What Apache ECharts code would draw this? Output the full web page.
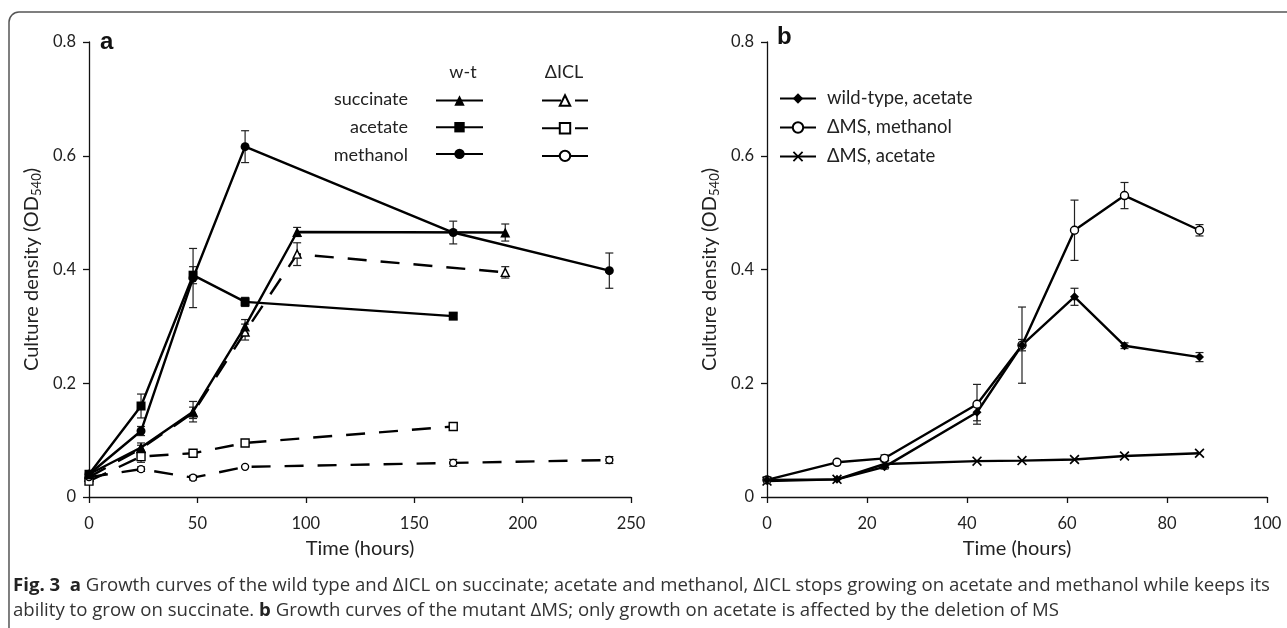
<!DOCTYPE html>
<html>
<head>
<meta charset="utf-8">
<script src="https://cdn.jsdelivr.net/npm/echarts@6/dist/echarts.min.js"></script>
<style>
html,body{margin:0;padding:0;background:#fff;}
#c{width:1287px;height:628px;}
</style>
</head>
<body>
<div id="c"></div>
<script>
// ---------- Panel a data ----------
const aSuccTime = [0, 24, 48, 72, 96, 192];
const aSuccWT   = [0.040, 0.087, 0.150, 0.300, 0.466, 0.465];
const aSuccWTErr = [0.004, 0.008, 0.018, 0.012, 0.008, 0.015];
const aSuccICL  = [0.035, 0.085, 0.148, 0.290, 0.427, 0.395];
const aSuccICLErr = [0.004, 0.006, 0.010, 0.014, 0.020, 0.010];

const aAcetTime = [0, 24, 48, 72, 168];
const aAcetWT   = [0.040, 0.160, 0.390, 0.343, 0.318];
const aAcetWTErr = [0.004, 0.021, 0.015, 0.008, 0.005];
const aAcetICL  = [0.028, 0.071, 0.077, 0.095, 0.124];
const aAcetICLErr = [0.004, 0.010, 0.005, 0.005, 0.006];

const aMethTime = [0, 24, 48, 72, 168, 240];
const aMethWT   = [0.040, 0.116, 0.385, 0.616, 0.465, 0.398];
const aMethWTErr = [0.004, 0.008, 0.052, 0.028, 0.020, 0.031];
const aMethICL  = [0.035, 0.049, 0.034, 0.053, 0.060, 0.065];
const aMethICLErr = [0.004, 0.004, 0.004, 0.003, 0.006, 0.006];

// ---------- Panel b data ----------
const bTime = [0, 14, 23.5, 42, 51, 61.5, 71.5, 86.5];
const bWTAcet = [0.030, 0.031, 0.053, 0.149, 0.267, 0.352, 0.266, 0.246];
const bWTAcetErr = [0.003, 0.003, 0.004, 0.015, 0.010, 0.015, 0.005, 0.008];
const bMSMeth = [0.030, 0.061, 0.068, 0.163, 0.267, 0.469, 0.530, 0.469];
const bMSMethErr = [0.003, 0.004, 0.006, 0.035, 0.067, 0.053, 0.023, 0.010];
const bMSAcet = [0.028, 0.031, 0.058, 0.063, 0.064, 0.066, 0.072, 0.077];

// ---------- Tick / text ----------
const aXTicks = {min: 0, max: 250, interval: 50};
const bXTicks = {min: 0, max: 100, interval: 20};
const yTicks = {min: 0, max: 0.8, interval: 0.2};

const FONT = 'Lato, "Open Sans", sans-serif';
const CAP_FONT = '"Open Sans", sans-serif';

function pts(t, v) { return t.map((x, i) => [x, v[i]]); }
function errs(t, v, e) { return t.map((x, i) => [x, v[i] - e[i], v[i] + e[i]]); }

const chart = echarts.init(document.getElementById('c'), null, {renderer: 'canvas'});

const openMarker = {color: '#fff', borderColor: '#000', borderWidth: 1.4};
const filledMarker = {color: '#000', borderColor: '#000', borderWidth: 0};
const solid = {color: '#000', width: 2.4, type: 'solid'};
const dashed = {color: '#000', width: 2.4, type: [19, 14]};
const crossPath = 'path://M0,1.2 L1.2,0 L5,3.8 L8.8,0 L10,1.2 L6.2,5 L10,8.8 L8.8,10 L5,6.2 L1.2,10 L0,8.8 L3.8,5 Z';

function errSeries(xi, data) {
  return {
    type: 'custom', xAxisIndex: xi, yAxisIndex: xi, z: 1, silent: true,
    data: data.filter(d => d[2] - d[1] > 0.0061),
    renderItem: function (params, api) {
      const x = api.value(0), lo = api.value(1), hi = api.value(2);
      const p1 = api.coord([x, lo]), p2 = api.coord([x, hi]);
      const w = 4;
      const st = {stroke: '#222', lineWidth: 1.2};
      return {type: 'group', children: [
        {type: 'line', shape: {x1: p1[0], y1: p1[1], x2: p2[0], y2: p2[1]}, style: st},
        {type: 'line', shape: {x1: p1[0] - w, y1: p1[1], x2: p1[0] + w, y2: p1[1]}, style: st},
        {type: 'line', shape: {x1: p2[0] - w, y1: p2[1], x2: p2[0] + w, y2: p2[1]}, style: st}
      ]};
    }
  };
}

function lineSeries(name, xi, data, symbol, size, item, line) {
  return {
    name: name, type: 'line', xAxisIndex: xi, yAxisIndex: xi, data: data,
    symbol: symbol, symbolSize: size, showAllSymbol: true, z: 3,
    itemStyle: item, lineStyle: line, color: '#000',
    emphasis: {disabled: true}, animation: false
  };
}

const axisCommon = {
  axisLine: {show: true, onZero: false, lineStyle: {color: '#111', width: 1.3}},
  axisTick: {show: true, inside: false, length: 6, lineStyle: {color: '#111', width: 1.3}},
  splitLine: {show: false},
  axisLabel: {color: '#222', fontSize: 16.5, fontFamily: FONT}
};

const yName = 'Culture density (OD{sub|540})';
const yNameStyle = {
  color: '#222', fontSize: 20, fontFamily: FONT,
  rich: {sub: {fontSize: 13, fontFamily: FONT, color: '#222', verticalAlign: 'bottom', padding: [9, 0, 0, 0]}}
};

const xNameStyle = {color: '#222', fontSize: 20, fontFamily: FONT};

const option = {
  animation: false,
  backgroundColor: '#fff',
  grid: [
    {left: 89, right: 656, top: 42, bottom: 131, containLabel: false},
    {left: 767, right: 20, top: 42, bottom: 131, containLabel: false}
  ],
  xAxis: [
    Object.assign({}, axisCommon, {gridIndex: 0, type: 'value', min: aXTicks.min, max: aXTicks.max, interval: aXTicks.interval,
      name: 'Time (hours)', nameLocation: 'middle', nameGap: 42, nameTextStyle: xNameStyle,
      axisLabel: Object.assign({}, axisCommon.axisLabel, {margin: 18})}),
    Object.assign({}, axisCommon, {gridIndex: 1, type: 'value', min: bXTicks.min, max: bXTicks.max, interval: bXTicks.interval,
      name: 'Time (hours)', nameLocation: 'middle', nameGap: 42, nameTextStyle: xNameStyle,
      axisLabel: Object.assign({}, axisCommon.axisLabel, {margin: 18})})
  ],
  yAxis: [
    Object.assign({}, axisCommon, {gridIndex: 0, type: 'value', min: yTicks.min, max: yTicks.max, interval: yTicks.interval,
      name: yName, nameLocation: 'middle', nameGap: 46, nameRotate: 90, nameTextStyle: yNameStyle,
      axisLabel: Object.assign({}, axisCommon.axisLabel, {margin: 13})}),
    Object.assign({}, axisCommon, {gridIndex: 1, type: 'value', min: yTicks.min, max: yTicks.max, interval: yTicks.interval,
      name: yName, nameLocation: 'middle', nameGap: 46, nameRotate: 90, nameTextStyle: yNameStyle,
      axisLabel: Object.assign({}, axisCommon.axisLabel, {margin: 13})})
  ],
  legend: [
    {
      orient: 'vertical', left: 430, top: 89, itemWidth: 47, itemHeight: 13, itemGap: 15,
      selectedMode: false, formatter: function () { return ''; },
      textStyle: {fontSize: 1, padding: 0},
      data: ['succinate (w-t)', 'acetate (w-t)', 'methanol (w-t)']
    },
    {
      orient: 'vertical', left: 536, top: 89, itemWidth: 46, itemHeight: 13, itemGap: 15,
      selectedMode: false, formatter: function () { return ''; },
      textStyle: {fontSize: 1, padding: 0},
      data: ['succinate (ΔICL)', 'acetate (ΔICL)', {name: 'methanol (ΔICL)', lineStyle: {type: 'solid'}}]
    },
    {
      orient: 'vertical', left: 774, top: 84, itemWidth: 36, itemHeight: 13, itemGap: 10,
      selectedMode: false,
      textStyle: {fontSize: 18.5, fontFamily: FONT, color: '#222', padding: [0, 0, 0, 6]},
      data: ['wild-type, acetate', 'ΔMS, methanol', 'ΔMS, acetate']
    }
  ],
  series: [
    errSeries(0, errs(aSuccTime, aSuccWT, aSuccWTErr)),
    errSeries(0, errs(aSuccTime, aSuccICL, aSuccICLErr)),
    errSeries(0, errs(aAcetTime, aAcetWT, aAcetWTErr)),
    errSeries(0, errs(aAcetTime, aAcetICL, aAcetICLErr)),
    errSeries(0, errs(aMethTime, aMethWT, aMethWTErr)),
    errSeries(0, errs(aMethTime, aMethICL, aMethICLErr)),
    errSeries(1, errs(bTime, bWTAcet, bWTAcetErr)),
    errSeries(1, errs(bTime, bMSMeth, bMSMethErr)),

    lineSeries('succinate (ΔICL)', 0, pts(aSuccTime, aSuccICL), 'triangle', 8, openMarker, dashed),
    lineSeries('acetate (ΔICL)', 0, pts(aAcetTime, aAcetICL), 'rect', 8, openMarker, dashed),
    lineSeries('methanol (ΔICL)', 0, pts(aMethTime, aMethICL), 'circle', 7, openMarker, dashed),
    lineSeries('succinate (w-t)', 0, pts(aSuccTime, aSuccWT), 'triangle', 10, filledMarker, solid),
    lineSeries('acetate (w-t)', 0, pts(aAcetTime, aAcetWT), 'rect', 9, filledMarker, solid),
    lineSeries('methanol (w-t)', 0, pts(aMethTime, aMethWT), 'circle', 9, filledMarker, solid),

    lineSeries('ΔMS, acetate', 1, pts(bTime, bMSAcet), crossPath, 10, filledMarker, solid),
    lineSeries('ΔMS, methanol', 1, pts(bTime, bMSMeth), 'circle', 8, openMarker, solid),
    lineSeries('wild-type, acetate', 1, pts(bTime, bWTAcet), 'diamond', 9, filledMarker, solid)
  ],
  graphic: [
    {type: 'rect', silent: true, z: 0, shape: {x: 9, y: 12, width: 1300, height: 640, r: 10},
      style: {fill: 'none', stroke: '#555', lineWidth: 1.5}},
    {type: 'text', left: 100, top: 30, style: {text: 'a', font: 'bold 24px "Liberation Sans", Arial, sans-serif', fill: '#111'}},
    {type: 'text', left: 777, top: 25, style: {text: 'b', font: 'bold 24px "Liberation Sans", Arial, sans-serif', fill: '#111'}},
    {type: 'text', x: 463, y: 72, style: {text: 'w-t', fontSize: 18, fontFamily: FONT, fill: '#222', align: 'center', verticalAlign: 'middle'}},
    {type: 'text', x: 564, y: 72, style: {text: 'ΔICL', fontSize: 18, fontFamily: FONT, fill: '#222', align: 'center', verticalAlign: 'middle'}},
    {type: 'text', x: 408, y: 99, style: {text: 'succinate', fontSize: 18, fontFamily: FONT, fill: '#222', align: 'right', verticalAlign: 'middle'}},
    {type: 'text', x: 408, y: 127, style: {text: 'acetate', fontSize: 18, fontFamily: FONT, fill: '#222', align: 'right', verticalAlign: 'middle'}},
    {type: 'text', x: 408, y: 155, style: {text: 'methanol', fontSize: 18, fontFamily: FONT, fill: '#222', align: 'right', verticalAlign: 'middle'}},
    {type: 'text', x: 13, y: 586, style: {
      text: '{b|Fig. 3}  {b|a} Growth curves of the wild type and ΔICL on succinate; acetate and methanol, ΔICL stops growing on acetate and methanol while keeps its',
      fontSize: 18.6, fontFamily: CAP_FONT, fill: '#333', verticalAlign: 'middle',
      rich: {b: {fontWeight: 'bold', fontSize: 18.6, fontFamily: CAP_FONT, fill: '#222'}}}},
    {type: 'text', x: 13, y: 611, style: {
      text: 'ability to grow on succinate. {b|b} Growth curves of the mutant ΔMS; only growth on acetate is affected by the deletion of MS',
      fontSize: 18.6, fontFamily: CAP_FONT, fill: '#333', verticalAlign: 'middle',
      rich: {b: {fontWeight: 'bold', fontSize: 18.6, fontFamily: CAP_FONT, fill: '#222'}}}}
  ]
};

chart.setOption(option);
</script>
</body>
</html>
